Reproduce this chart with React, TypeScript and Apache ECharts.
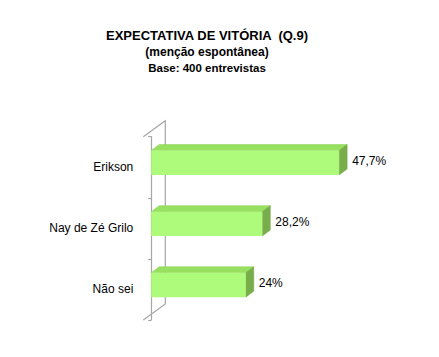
import React, { useEffect, useRef } from "react";
import * as echarts from "echarts";

const categories = ["Erikson", "Nay de Zé Grilo", "Não sei"];
const values = [47.7, 28.2, 24];
const titleLines = ["EXPECTATIVA DE VITÓRIA  (Q.9)", "(menção espontânea)", "Base: 400 entrevistas"];

const fmt = (v: number) => String(v).replace(".", ",") + "%";

export default function App() {
  const ref = useRef<HTMLDivElement>(null);
  useEffect(() => {
    const chart = echarts.init(ref.current!, null, { renderer: "svg" });
    const DX = 8, DY = -6;
    const font = "Liberation Sans, Arial, sans-serif";
    chart.setOption({
      animation: false,
      backgroundColor: "#ffffff",
      title: {
        text: `{a|${titleLines[0]}}\n{b|${titleLines[1]}}\n{c|${titleLines[2]}}`,
        left: 202,
        textAlign: "center",
        top: 22,
        textStyle: {
          rich: {
            a: { fontFamily: font, fontWeight: "bold", fontSize: 13, lineHeight: 16.5, color: "#000" },
            b: { fontFamily: font, fontWeight: "bold", fontSize: 12, lineHeight: 16.5, color: "#000" },
            c: { fontFamily: font, fontWeight: "bold", fontSize: 11.5, lineHeight: 16.5, color: "#000" },
          },
        },
      },
      grid: { left: 143.3, right: 90.8, top: 136.7, bottom: 37 },
      xAxis: { type: "value", min: -2, max: 50, show: false },
      yAxis: {
        type: "category",
        data: categories,
        inverse: true,
        axisLine: { show: true, lineStyle: { color: "#a6a6a6", width: 1.2 } },
        axisTick: { show: true, length: 3, lineStyle: { color: "#a6a6a6", width: 1.2 } },
        axisLabel: { margin: 10, fontSize: 12, color: "#000000", fontFamily: font },
        splitLine: { show: false },
      },
      series: [
        {
          type: "custom",
          silent: true,
          data: [[0, 0]],
          z: 1,
          renderItem: (params: any, api: any) => {
            const cs = params.coordSys;
            const x = cs.x, top = cs.y, bot = cs.y + cs.height;
            const dx = 22, dy = -16;
            return {
              type: "polyline",
              shape: {
                points: [
                  [x, top],
                  [x + dx, top + dy],
                  [x + dx, bot + dy],
                  [x, bot],
                ],
              },
              style: { stroke: "#a6a6a6", lineWidth: 1.2, fill: "none" },
            };
          },
        },
        {
          type: "custom",
          silent: true,
          z: 3,
          data: values.map((v, i) => [v, i]),
          renderItem: (params: any, api: any) => {
            const v = api.value(0);
            const idx = api.value(1);
            const p0 = api.coord([0, idx]);
            const p1 = api.coord([v, idx]);
            const band = api.size([0, 1])[1];
            const h = band * 0.4;
            const cy = p0[1] - 4.5;
            const yT = cy - h / 2, yB = cy + h / 2;
            const x0 = p0[0], x1 = p1[0];
            return {
              type: "group",
              children: [
                {
                  type: "polygon",
                  shape: { points: [[x0, yT], [x0 + DX, yT + DY], [x1 + DX, yT + DY], [x1, yT]] },
                  style: { fill: "#98e060", stroke: "#8fd058", lineWidth: 0.5 },
                },
                {
                  type: "polygon",
                  shape: { points: [[x1, yT], [x1 + DX, yT + DY], [x1 + DX, yB + DY], [x1, yB]] },
                  style: { fill: "#78ae4a", stroke: "#70a444", lineWidth: 0.5 },
                },
                {
                  type: "rect",
                  shape: { x: x0, y: yT, width: x1 - x0, height: h },
                  style: { fill: "#aefa7a" },
                },
                {
                  type: "text",
                  style: {
                    x: x1 + DX + 5,
                    y: cy - 1.5,
                    text: fmt(v),
                    fill: "#000000",
                    fontSize: 12,
                    fontFamily: font,
                    verticalAlign: "middle",
                    align: "left",
                  },
                },
              ],
            };
          },
        },
      ],
    });
    return () => chart.dispose();
  }, []);
  return <div ref={ref} style={{ position: "absolute", left: 0, top: 0, width: 439, height: 357 }} />;
}
